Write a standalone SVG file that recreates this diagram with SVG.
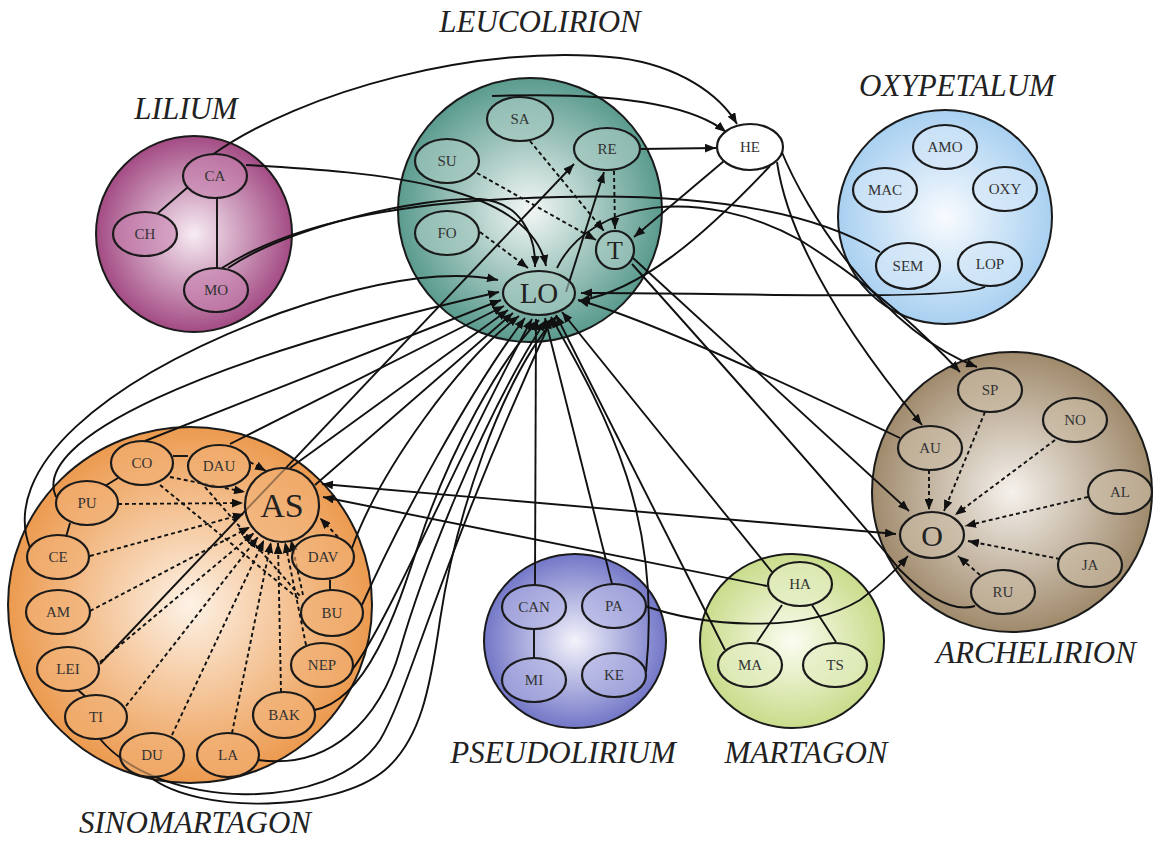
<svg xmlns="http://www.w3.org/2000/svg" width="1162" height="843" viewBox="0 0 1162 843">
<defs>
<radialGradient id="gLil" cx="50%" cy="50%" r="50%"><stop offset="0%" stop-color="#f7ecf3"/><stop offset="100%" stop-color="#a34b84"/></radialGradient>
<radialGradient id="gLeu" cx="50%" cy="50%" r="50%"><stop offset="0%" stop-color="#f3f7f6"/><stop offset="100%" stop-color="#5a9b8e"/></radialGradient>
<radialGradient id="gOxy" cx="50%" cy="50%" r="50%"><stop offset="0%" stop-color="#f8fbfe"/><stop offset="100%" stop-color="#a9d0f1"/></radialGradient>
<radialGradient id="gSino" cx="50%" cy="50%" r="50%"><stop offset="0%" stop-color="#fdf2e6"/><stop offset="100%" stop-color="#ec9a4f"/></radialGradient>
<radialGradient id="gArch" cx="50%" cy="50%" r="50%"><stop offset="0%" stop-color="#f5f1ec"/><stop offset="100%" stop-color="#a08a6c"/></radialGradient>
<radialGradient id="gPse" cx="50%" cy="50%" r="50%"><stop offset="0%" stop-color="#f3f3fb"/><stop offset="100%" stop-color="#7377c7"/></radialGradient>
<radialGradient id="gMar" cx="50%" cy="50%" r="50%"><stop offset="0%" stop-color="#fbfdf2"/><stop offset="100%" stop-color="#c9dc8b"/></radialGradient>
<marker id="ah" viewBox="0 0 10 8" refX="10" refY="4" markerWidth="11" markerHeight="9" markerUnits="userSpaceOnUse" orient="auto-start-reverse"><path d="M0,0 L10,4 L0,8 z" fill="#111"/></marker>
</defs>
<style>
.grp{stroke:#1a1a1a;stroke-width:2}
.nd{stroke:#1a1a1a;stroke-width:2.2}
.lil{fill:#c884b0;fill-opacity:0.55}.leu{fill:#a8ccc3;fill-opacity:0.6}.oxy{fill:#d5e8f8;fill-opacity:0.6}.sin{fill:#f2b074;fill-opacity:0.6}.arc{fill:#cbbda5;fill-opacity:0.6}.pse{fill:#b0b2e2;fill-opacity:0.6}.mar{fill:#e5eec4;fill-opacity:0.6}.wht{fill:#ffffff}
.lb{font-family:"Liberation Serif",serif;font-size:15px;fill:#333;text-anchor:middle}
.big{font-family:"Liberation Serif",serif;fill:#222;text-anchor:middle}
.ttl{font-family:"Liberation Serif",serif;font-style:italic;font-size:31px;fill:#222;text-anchor:middle}
.c{fill:none;stroke:#111;stroke-width:1.9}
.d{fill:none;stroke:#111;stroke-width:1.9;stroke-dasharray:4 3}
.a{marker-end:url(#ah)}
.s{marker-start:url(#ah)}
</style>
<rect width="1162" height="843" fill="#ffffff"/>

<g id="group-circles">
<circle id="c-lilium" class="grp" cx="194" cy="234" r="98" fill="url(#gLil)"/>
<circle id="c-leucolirion" class="grp" cx="530" cy="210" r="132" fill="url(#gLeu)"/>
<circle id="c-oxypetalum" class="grp" cx="945" cy="217" r="107" fill="url(#gOxy)"/>
<ellipse id="c-sinomartagon" class="grp" cx="190" cy="605" rx="182" ry="178" fill="url(#gSino)"/>
<circle id="c-archelirion" class="grp" cx="1012" cy="492" r="140" fill="url(#gArch)"/>
<ellipse id="c-pseudolirium" class="grp" cx="575" cy="641" rx="91" ry="87" fill="url(#gPse)"/>
<ellipse id="c-martagon" class="grp" cx="792" cy="641" rx="92" ry="87" fill="url(#gMar)"/>
</g>

<g id="titles">
<text class="ttl" x="186" y="119">LILIUM</text>
<text class="ttl" x="540" y="32">LEUCOLIRION</text>
<text class="ttl" x="957" y="96">OXYPETALUM</text>
<text class="ttl" x="195" y="833">SINOMARTAGON</text>
<text class="ttl" x="1036" y="663">ARCHELIRION</text>
<text class="ttl" x="563" y="763">PSEUDOLIRIUM</text>
<text class="ttl" x="806" y="763">MARTAGON</text>
</g>

<g id="connectors">
<!-- Lilium internal -->
<path class="c" d="M188,187 L158,213"/>
<path class="c" d="M217,198 L217,268"/>
<!-- Leucolirion internal dashed -->
<path class="d a" d="M530,141 L604,231"/>
<path class="d a" d="M477,173 L596,240"/>
<path class="d a" d="M480,232 L528,268"/>
<path class="d a" d="M614,171 L615,229"/>
<!-- solid arrows in upper area -->
<path class="c a" d="M640,149 L716,148"/>
<path class="c a" d="M492,96 C610,92 690,103 726,132"/>
<path class="c a" d="M212,155 C300,92 480,42 620,58 C680,66 720,95 737,124"/>
<path class="c a" d="M100,664 L574,164"/>
<path class="c a" d="M566,292 L604,172"/>
<path class="c a" d="M724,161 L634,237"/>
<path class="c a" d="M246,165 C380,172 530,185 546,266"/>
<path class="c a" d="M228,268 C290,226 420,197 480,199 C520,202 536,235 535,267"/>
<path class="c" d="M222,268 C300,218 420,200 560,197 C720,193 820,215 880,252"/>
<path class="c a" d="M985,287 C950,302 700,292 581,293"/>
<path class="c a" d="M557,268 C590,200 700,185 800,240 C880,290 930,340 960,372"/>
<path class="c a" d="M781,150 C805,210 880,330 977,367"/>
<path class="c a" d="M777,162 C790,250 860,350 922,425"/>
<path class="c a" d="M770,166 C700,240 640,290 579,301"/>
<path class="c a" d="M633,258 L909,511"/>
<path class="c" d="M632,264 C700,340 860,520 900,570 C930,600 955,612 975,606"/>
<path class="c a" d="M900,438 C800,390 650,320 578,300"/>
<!-- AS / O / HA / PA -->
<path class="c a s" d="M322,484 L896,534"/>
<path class="c a" d="M767,586 L323,497"/>
<path class="c a" d="M645,606 C700,625 800,636 860,600 C880,585 896,570 908,556"/>
<!-- LO fan to Pseudolirium / Martagon -->
<path class="c s" d="M536,319 L535,585"/>
<path class="c s" d="M545,318 L612,584"/>
<path class="c s" d="M551,317 C610,420 662,520 646,672"/>
<path class="c s" d="M556,315 L725,650"/>
<path class="c s" d="M562,312 L772,572"/>
<!-- Sinomartagon to LO -->
<path class="c a" d="M30,548 C0,470 100,380 280,313 C360,285 440,268 498,280"/>
<path class="c a" d="M56,497 C30,440 200,360 499,292"/>
<path class="c a" d="M145,441 L501,300"/>
<path class="c a" d="M230,444 L504,306"/>
<path class="c a" d="M290,468 L508,310"/>
<path class="c a" d="M315,485 L513,313"/>
<path class="c a" d="M352,548 C380,470 460,360 519,316"/>
<path class="c a" d="M362,605 C400,520 470,390 525,318"/>
<path class="c a" d="M352,670 C390,620 460,450 532,319"/>
<path class="c a" d="M314,710 C370,700 400,600 420,540 C450,450 500,360 539,320"/>
<path class="c a" d="M258,760 C330,770 380,720 400,650 C420,580 480,420 546,320"/>
<path class="c a" d="M100,739 C160,810 330,815 380,740 C410,690 440,560 552,318"/>
<path class="c a" d="M150,777 C200,815 335,812 385,770 C420,740 430,690 440,620 C455,520 500,380 557,316"/>
<!-- Sinomartagon ring links -->
<path class="c" d="M173,456 L188,456"/>
<path class="c" d="M118,478 L105,486"/>
<path class="c" d="M70,523 L66,537"/>
<path class="c" d="M78,690 L86,697"/>
<path class="c" d="M330,580 L330,590"/>
<!-- Sinomartagon dashed to AS -->
<path class="d a" d="M250,462 L266,471"/>
<path class="d a" d="M170,477 L245,492"/>
<path class="d a" d="M118,504 L243,503"/>
<path class="d a" d="M90,556 L244,514"/>
<path class="d a" d="M90,611 L250,527"/>
<path class="d a" d="M100,662 L254,533"/>
<path class="d a" d="M126,706 L258,537"/>
<path class="d a" d="M172,735 L264,540"/>
<path class="d a" d="M232,733 L271,542"/>
<path class="d a" d="M281,692 L278,543"/>
<path class="d a" d="M306,645 L285,542"/>
<path class="d a" d="M303,595 L291,540"/>
<path class="d a" d="M338,537 L320,518"/>
<path class="d" d="M160,485 L300,600"/>
<path class="d" d="M205,487 L300,596"/>
<!-- Archelirion dashed to O -->
<path class="d a" d="M929,470 L929,510"/>
<path class="d a" d="M985,412 L944,511"/>
<path class="d a" d="M1055,440 L955,515"/>
<path class="d a" d="M1088,497 L965,526"/>
<path class="d a" d="M1060,559 L968,541"/>
<path class="d a" d="M980,575 L958,556"/>
<!-- Pseudolirium / Martagon internal -->
<path class="c" d="M534,629 L534,658"/>
<path class="c" d="M782,605 L757,642"/>
<path class="c" d="M812,605 L836,642"/>
</g>

<g id="n-CA"><ellipse class="nd lil" cx="215" cy="176" rx="32" ry="22"/><text class="lb" x="215" y="181">CA</text></g>
<g id="n-CH"><ellipse class="nd lil" cx="145" cy="234" rx="32" ry="22"/><text class="lb" x="145" y="239">CH</text></g>
<g id="n-MO"><ellipse class="nd lil" cx="216" cy="290" rx="32" ry="22"/><text class="lb" x="216" y="295">MO</text></g>

<g id="n-SA"><ellipse class="nd leu" cx="520" cy="119" rx="33" ry="22"/><text class="lb" x="520" y="124">SA</text></g>
<g id="n-RE"><ellipse class="nd leu" cx="607" cy="149" rx="33" ry="21"/><text class="lb" x="607" y="154">RE</text></g>
<g id="n-SU"><ellipse class="nd leu" cx="447" cy="161" rx="32" ry="22"/><text class="lb" x="447" y="166">SU</text></g>
<g id="n-FO"><ellipse class="nd leu" cx="447" cy="233" rx="32" ry="22"/><text class="lb" x="447" y="238">FO</text></g>
<g id="n-T"><circle class="nd leu" cx="615" cy="250" r="19"/><text class="big" x="615" y="259" font-size="26">T</text></g>
<g id="n-LO"><ellipse class="nd leu" cx="539" cy="293" rx="36" ry="22"/><text class="big" x="539" y="303" font-size="29">LO</text></g>
<g id="n-HE"><ellipse class="nd wht" cx="750" cy="147" rx="33" ry="23"/><text class="lb" x="750" y="152">HE</text></g>

<g id="n-AMO"><ellipse class="nd oxy" cx="945" cy="147" rx="32" ry="22"/><text class="lb" x="945" y="152">AMO</text></g>
<g id="n-MAC"><ellipse class="nd oxy" cx="885" cy="190" rx="32" ry="22"/><text class="lb" x="885" y="195">MAC</text></g>
<g id="n-OXY"><ellipse class="nd oxy" cx="1005" cy="189" rx="32" ry="22"/><text class="lb" x="1005" y="194">OXY</text></g>
<g id="n-SEM"><ellipse class="nd oxy" cx="908" cy="266" rx="32" ry="23"/><text class="lb" x="908" y="271">SEM</text></g>
<g id="n-LOP"><ellipse class="nd oxy" cx="990" cy="264" rx="32" ry="22"/><text class="lb" x="990" y="269">LOP</text></g>

<g id="n-CO"><ellipse class="nd sin" cx="142" cy="463" rx="31" ry="22"/><text class="lb" x="142" y="468">CO</text></g>
<g id="n-DAU"><ellipse class="nd sin" cx="219" cy="466" rx="31" ry="21"/><text class="lb" x="219" y="471">DAU</text></g>
<g id="n-PU"><ellipse class="nd sin" cx="87" cy="503" rx="31" ry="22"/><text class="lb" x="87" y="508">PU</text></g>
<g id="n-AS"><circle class="nd sin" cx="282" cy="505" r="37" stroke-width="1.6"/><text class="big" x="282" y="517" font-size="34">AS</text></g>
<g id="n-CE"><ellipse class="nd sin" cx="58" cy="557" rx="31" ry="22"/><text class="lb" x="58" y="562">CE</text></g>
<g id="n-DAV"><ellipse class="nd sin" cx="323" cy="557" rx="31" ry="22"/><text class="lb" x="323" y="562">DAV</text></g>
<g id="n-AM"><ellipse class="nd sin" cx="58" cy="612" rx="32" ry="22"/><text class="lb" x="58" y="617">AM</text></g>
<g id="n-BU"><ellipse class="nd sin" cx="332" cy="613" rx="31" ry="23"/><text class="lb" x="332" y="618">BU</text></g>
<g id="n-LEI"><ellipse class="nd sin" cx="68" cy="669" rx="31" ry="22"/><text class="lb" x="68" y="674">LEI</text></g>
<g id="n-NEP"><ellipse class="nd sin" cx="322" cy="665" rx="31" ry="22"/><text class="lb" x="322" y="670">NEP</text></g>
<g id="n-TI"><ellipse class="nd sin" cx="96" cy="717" rx="31" ry="22"/><text class="lb" x="96" y="722">TI</text></g>
<g id="n-BAK"><ellipse class="nd sin" cx="284" cy="715" rx="31" ry="23"/><text class="lb" x="284" y="720">BAK</text></g>
<g id="n-DU"><ellipse class="nd sin" cx="152" cy="755" rx="32" ry="22"/><text class="lb" x="152" y="760">DU</text></g>
<g id="n-LA"><ellipse class="nd sin" cx="228" cy="755" rx="31" ry="22"/><text class="lb" x="228" y="760">LA</text></g>

<g id="n-SP"><ellipse class="nd arc" cx="990" cy="390" rx="32" ry="22"/><text class="lb" x="990" y="395">SP</text></g>
<g id="n-NO"><ellipse class="nd arc" cx="1075" cy="420" rx="32" ry="22"/><text class="lb" x="1075" y="425">NO</text></g>
<g id="n-AU"><ellipse class="nd arc" cx="930" cy="448" rx="32" ry="22"/><text class="lb" x="930" y="453">AU</text></g>
<g id="n-AL"><ellipse class="nd arc" cx="1120" cy="492" rx="32" ry="22"/><text class="lb" x="1120" y="497">AL</text></g>
<g id="n-O"><ellipse class="nd arc" cx="932" cy="535" rx="32" ry="23" stroke-width="1.6"/><text class="big" x="932" y="546" font-size="30">O</text></g>
<g id="n-JA"><ellipse class="nd arc" cx="1090" cy="565" rx="32" ry="22"/><text class="lb" x="1090" y="570">JA</text></g>
<g id="n-RU"><ellipse class="nd arc" cx="1003" cy="592" rx="32" ry="22"/><text class="lb" x="1003" y="597">RU</text></g>

<g id="n-CAN"><ellipse class="nd pse" cx="534" cy="607" rx="32" ry="22"/><text class="lb" x="534" y="612">CAN</text></g>
<g id="n-PA"><ellipse class="nd pse" cx="614" cy="606" rx="32" ry="22"/><text class="lb" x="614" y="611">PA</text></g>
<g id="n-MI"><ellipse class="nd pse" cx="534" cy="680" rx="32" ry="22"/><text class="lb" x="534" y="685">MI</text></g>
<g id="n-KE"><ellipse class="nd pse" cx="614" cy="675" rx="32" ry="22"/><text class="lb" x="614" y="680">KE</text></g>

<g id="n-HA"><ellipse class="nd mar" cx="800" cy="584" rx="32" ry="22"/><text class="lb" x="800" y="589">HA</text></g>
<g id="n-MA"><ellipse class="nd mar" cx="750" cy="665" rx="32" ry="22"/><text class="lb" x="750" y="670">MA</text></g>
<g id="n-TS"><ellipse class="nd mar" cx="835" cy="665" rx="32" ry="22"/><text class="lb" x="835" y="670">TS</text></g>
</svg>
